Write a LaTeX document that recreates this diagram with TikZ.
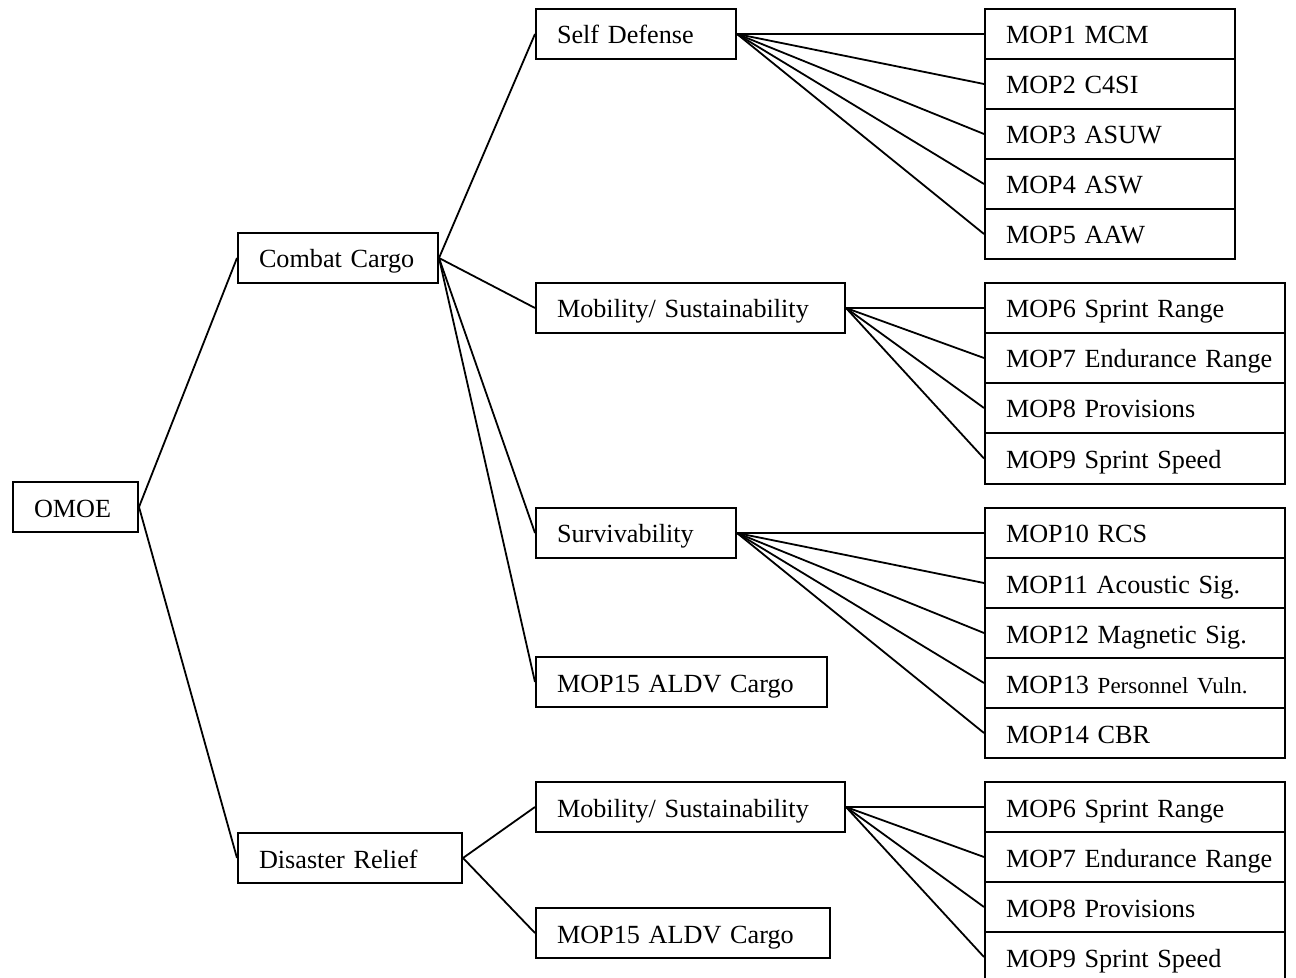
\documentclass[tikz,border=0pt]{standalone}
\usepackage{fontspec}
\setmainfont{Liberation Serif}
\begin{document}
\begin{tikzpicture}[x=0.5pt,y=-0.5pt,
  box/.style={draw, line width=1pt, rectangle, anchor=north west,
    inner xsep=0pt, inner ysep=0pt, text height=10pt, text depth=0pt,
    align=left, font=\fontsize{13.1pt}{16pt}\selectfont},
  link/.style={line width=0.9pt}]
\useasboundingbox (0,0) rectangle (1296,978);
\clip (0,0) rectangle (1296,978);
% \bx{name}{left}{top}{width}{height}{text}, all in pixel units
\newcommand\bx[6]{\node[box, minimum width=#4*0.5pt, text width=#4*0.5pt,
  minimum height=#5*0.5pt] (#1) at (#2,#3) {\hspace*{10.5pt}#6};}
\newcommand\smalltxt[1]{{\fontsize{11.5pt}{14pt}\selectfont #1}}

% root and first level
\bx{omoe}{12}{481}{125}{50}{OMOE}
\bx{cc}{237}{232}{200}{50}{Combat Cargo}
\bx{dr}{237}{832}{224}{50}{Disaster Relief}

% second level
\bx{sd}{535}{8}{200}{50}{Self Defense}
\bx{ms}{535}{282}{309}{50}{Mobility/ Sustainability}
\bx{sv}{535}{507}{200}{50}{Survivability}
\bx{ac}{535}{656}{291}{50}{MOP15 ALDV Cargo}
\bx{msb}{535}{781}{309}{50}{Mobility/ Sustainability}
\bx{acb}{535}{907}{294}{50}{MOP15 ALDV Cargo}

% measures of performance: self defense
\bx{m1}{984}{8}{250}{50}{MOP1 MCM}
\bx{m2}{984}{58}{250}{50}{MOP2 C4SI}
\bx{m3}{984}{108}{250}{50}{MOP3 ASUW}
\bx{m4}{984}{158}{250}{50}{MOP4 ASW}
\bx{m5}{984}{208}{250}{50}{MOP5 AAW}

% mobility / sustainability (combat cargo)
\bx{m6}{984}{282}{300}{50}{MOP6 Sprint Range}
\bx{m7}{984}{332}{300}{50}{MOP7 Endurance Range}
\bx{m8}{984}{382}{300}{50}{MOP8 Provisions}
\bx{m9}{984}{432}{300}{51}{MOP9 Sprint Speed}

% survivability
\bx{m10}{984}{507}{300}{50}{MOP10 RCS}
\bx{m11}{984}{557}{300}{50}{MOP11 Acoustic Sig.}
\bx{m12}{984}{607}{300}{50}{MOP12 Magnetic Sig.}
\bx{m13}{984}{657}{300}{50}{MOP13 \smalltxt{Personnel Vuln.}}
\bx{m14}{984}{707}{300}{50}{MOP14 CBR}

% mobility / sustainability (disaster relief)
\bx{n6}{984}{781}{300}{50}{MOP6 Sprint Range}
\bx{n7}{984}{831}{300}{50}{MOP7 Endurance Range}
\bx{n8}{984}{881}{300}{50}{MOP8 Provisions}
\bx{n9}{984}{931}{300}{50}{MOP9 Sprint Speed}

% connectors
\draw[link] (omoe.east) -- (cc.west);
\draw[link] (omoe.east) -- (dr.west);
\foreach \c in {sd,ms,sv,ac} \draw[link] (cc.east) -- (\c.west);
\foreach \c in {msb,acb} \draw[link] (dr.east) -- (\c.west);
\foreach \c in {m1,m2,m3,m4,m5} \draw[link] (sd.east) -- (\c.west);
\foreach \c in {m6,m7,m8,m9} \draw[link] (ms.east) -- (\c.west);
\foreach \c in {m10,m11,m12,m13,m14} \draw[link] (sv.east) -- (\c.west);
\foreach \c in {n6,n7,n8,n9} \draw[link] (msb.east) -- (\c.west);
\end{tikzpicture}
\end{document}
